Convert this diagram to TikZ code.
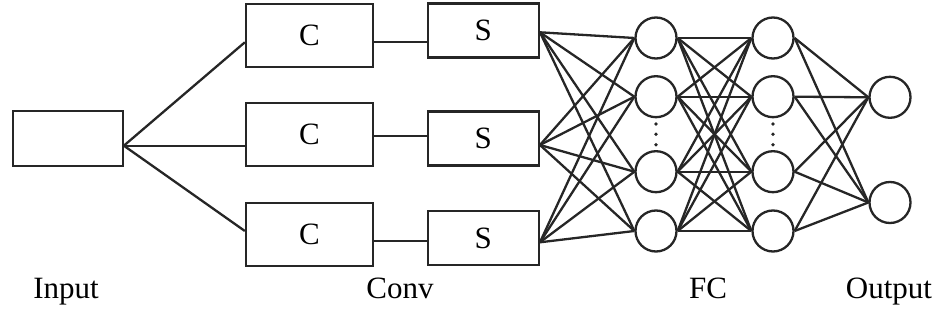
\documentclass[tikz,border=0pt]{standalone}
\usepackage{fontspec}
\setmainfont{Liberation Serif}
\begin{document}
\begin{tikzpicture}[x=1pt,y=-1pt,
  line width=2.3pt, draw=black!85,
  every node/.style={font=\fontsize{31}{37}\selectfont},
  box/.style={draw=black!85, rectangle, inner sep=0pt},
  neuron/.style={draw=black!85, circle, inner sep=0pt, minimum size=41pt},
  lbl/.style={anchor=base, inner sep=0pt},
  dotmark/.style={fill=black!85, circle, inner sep=0pt, minimum size=3.8pt}]
\useasboundingbox (0,0) rectangle (945,312);

% input
\node[box, minimum width=110pt, minimum height=55pt] (in) at (67.7,138.3) {};
% conv boxes
\node[box, minimum width=127pt, minimum height=63pt] (c1) at (309.5,35.2) {C};
\node[box, minimum width=127pt, minimum height=63pt] (c2) at (309.5,134.2) {C};
\node[box, minimum width=127pt, minimum height=63pt] (c3) at (309.5,234.2) {C};
\node[box, minimum width=111pt, minimum height=54pt] (s1) at (483.3,30.5) {S};
\node[box, minimum width=111pt, minimum height=54pt] (s2) at (483.3,138.5) {S};
\node[box, minimum width=111pt, minimum height=54pt] (s3) at (483.3,238.3) {S};

% FC layers
\foreach \i/\y in {1/38,2/96.7,3/171.7,4/231}{
  \node[neuron] (a\i) at (656,\y) {};
  \node[neuron] (b\i) at (773,\y) {};
}
\node[neuron] (o1) at (890,97.3) {};
\node[neuron] (o2) at (890,202.5) {};

% dots
\foreach \y [count=\k] in {124,134.3,144.7}{
  \node[dotmark] (da\k) at (656,\y) {};
  \node[dotmark] (db\k) at (773,\y) {};
}

% input to conv
\draw ([yshift=-7.4pt]in.east) -- ([yshift=-7.1pt]c1.west);
\draw ([yshift=-7.4pt]in.east) -- ([yshift=-11.5pt]c2.west);
\draw ([yshift=-7.4pt]in.east) -- ([yshift=3.2pt]c3.west);

% conv to pool
\draw ([yshift=-6.5pt]c1.east) -- ([yshift=-6.5pt]c1.east -| s1.west);
\draw ([yshift=-1.8pt]c2.east) -- ([yshift=-1.8pt]c2.east -| s2.west);
\draw ([yshift=-6.5pt]c3.east) -- ([yshift=-6.5pt]c3.east -| s3.west);

% pool to FC1
\coordinate (p1) at ([yshift=-1.8pt]s1.east);
\coordinate (p2) at ([yshift=-6.5pt]s2.east);
\coordinate (p3) at ([yshift=-4pt]s3.east);
\foreach \p in {p1,p2,p3}{
  \foreach \j in {1,2,3,4}{
    \draw (\p) -- (a\j.west);
  }
}
% FC1 to FC2
\foreach \i in {1,2,3,4}{
  \foreach \j in {1,2,3,4}{
    \draw (a\i.east) -- (b\j.west);
  }
}
% FC2 to output
\foreach \i in {1,2,3,4}{
  \foreach \j in {1,2}{
    \draw (b\i.east) -- (o\j.west);
  }
}

% labels
\node[lbl] (tin) at (66,299) {Input};
\node[lbl] (tconv) at (400,299) {Conv};
\node[lbl] (tfc) at (708,299) {FC};
\node[lbl] (tout) at (889,299) {Output};
\end{tikzpicture}
\end{document}
